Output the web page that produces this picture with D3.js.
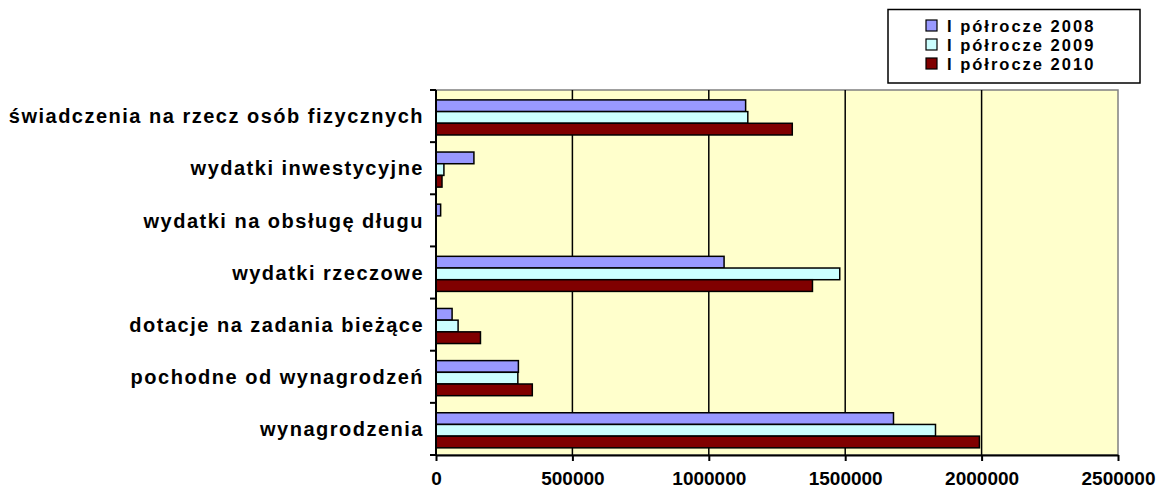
<!DOCTYPE html>
<html>
<head>
<meta charset="utf-8">
<script src="https://cdn.jsdelivr.net/npm/d3@7"></script>
<style>
  body { margin: 0; background: #fff; }
  text { font-family: "Liberation Sans", Arial, sans-serif; font-weight: bold; fill: #000; }
</style>
</head>
<body>
<div id="chart"></div>
<script>
// categories, top to bottom as drawn
const categories = [
  "świadczenia na rzecz osób fizycznych",
  "wydatki inwestycyjne",
  "wydatki na obsługę długu",
  "wydatki rzeczowe",
  "dotacje na zadania bieżące",
  "pochodne od wynagrodzeń",
  "wynagrodzenia"
];
const seriesNames = ["I półrocze 2008", "I półrocze 2009", "I półrocze 2010"];
const colors = ["#9999ff", "#ccffff", "#800000"];

// values per series, same order as categories
const v2008 = [1135000, 139000, 17000, 1056000, 59000, 302000, 1677000];
const v2009 = [1143000, 29000, 0, 1480000, 81000, 300000, 1831000];
const v2010 = [1306000, 22000, 0, 1380000, 163000, 353000, 1992000];
const series = [v2008, v2009, v2010];

const xTicks = [0, 500000, 1000000, 1500000, 2000000, 2500000];

const width = 1161, height = 493;
const margin = { top: 90, right: 43, bottom: 38, left: 436 };

const svg = d3.select("#chart").append("svg")
  .attr("width", width)
  .attr("height", height);

const x = d3.scaleLinear()
  .domain([0, 2500000])
  .range([margin.left, width - margin.right]);

const y = d3.scaleBand()
  .domain(categories)
  .range([margin.top, height - margin.bottom])
  .padding(0);

const y1 = d3.scaleBand()
  .domain(d3.range(series.length))
  .range([0, y.bandwidth()])
  .paddingInner(0)
  .paddingOuter(0.73)
  .align(0.58);

// plot area
svg.append("rect")
  .attr("x", x(0))
  .attr("y", margin.top)
  .attr("width", x(2500000) - x(0))
  .attr("height", height - margin.bottom - margin.top)
  .attr("fill", "#ffffcc")
  .attr("stroke", "#808080")
  .attr("stroke-width", 1.5);

// vertical gridlines
svg.append("g")
  .selectAll("line")
  .data(xTicks.slice(1, -1))
  .join("line")
    .attr("x1", d => x(d))
    .attr("x2", d => x(d))
    .attr("y1", margin.top)
    .attr("y2", height - margin.bottom)
    .attr("stroke", "#000")
    .attr("stroke-width", 1.5);

// bars
const rows = categories.map((c, i) => ({ cat: c, vals: series.map(s => s[i]) }));

svg.append("g")
  .selectAll("g")
  .data(rows)
  .join("g")
    .attr("transform", d => `translate(0,${y(d.cat)})`)
  .selectAll("rect")
  .data(d => d.vals.map((v, k) => ({ k, v })).filter(d => d.v > 0))
  .join("rect")
    .attr("x", x(0))
    .attr("y", d => y1(d.k))
    .attr("width", d => x(d.v) - x(0))
    .attr("height", y1.bandwidth())
    .attr("fill", d => colors[d.k])
    .attr("stroke", "#000")
    .attr("stroke-width", 1.5);

// x axis
const xAxis = svg.append("g")
  .attr("transform", `translate(0,${height - margin.bottom})`)
  .call(d3.axisBottom(x).tickValues(xTicks).tickFormat(d3.format("d")).tickSize(6).tickSizeOuter(0));
xAxis.select(".domain").attr("stroke-width", 2);
xAxis.selectAll(".tick line").attr("stroke-width", 2);
xAxis.selectAll(".tick text")
  .attr("y", 0)
  .attr("dy", 0)
  .attr("transform", "translate(0,30)")
  .style("font-size", "19px")
  .style("font-family", "'Liberation Sans', Arial, sans-serif")
  .style("font-weight", "bold");

// y axis: ticks at band boundaries
const yAxis = svg.append("g");
yAxis.append("line")
  .attr("x1", x(0)).attr("x2", x(0))
  .attr("y1", margin.top).attr("y2", height - margin.bottom)
  .attr("stroke", "#000").attr("stroke-width", 2);
yAxis.selectAll("line.tk")
  .data(categories.map(c => y(c)).concat([height - margin.bottom]))
  .join("line")
    .attr("class", "tk")
    .attr("x1", x(0) - 6).attr("x2", x(0))
    .attr("y1", d => d).attr("y2", d => d)
    .attr("stroke", "#000").attr("stroke-width", 2);
yAxis.selectAll("text")
  .data(categories)
  .join("text")
    .attr("x", x(0) - 12)
    .attr("y", d => y(d) + y.bandwidth() / 2)
    .attr("dy", "0.36em")
    .attr("text-anchor", "end")
    .style("font-size", "20px")
    .style("letter-spacing", "1.5px")
    .text(d => d);

// legend
const legend = svg.append("g");
legend.append("rect")
  .attr("x", 888).attr("y", 9.5)
  .attr("width", 252).attr("height", 73.5)
  .attr("fill", "#fff")
  .attr("stroke", "#000")
  .attr("stroke-width", 1.5);
const items = legend.selectAll("g.item")
  .data(seriesNames)
  .join("g")
    .attr("class", "item")
    .attr("transform", (d, i) => `translate(926,${20 + i * 19})`);
items.append("rect")
  .attr("width", 11).attr("height", 11)
  .attr("fill", (d, i) => colors[i])
  .attr("stroke", "#000")
  .attr("stroke-width", 1.2);
items.append("text")
  .attr("x", 21)
  .attr("y", 12)
  .style("font-size", "16.5px")
  .style("letter-spacing", "2px")
  .text(d => d);
</script>
</body>
</html>
